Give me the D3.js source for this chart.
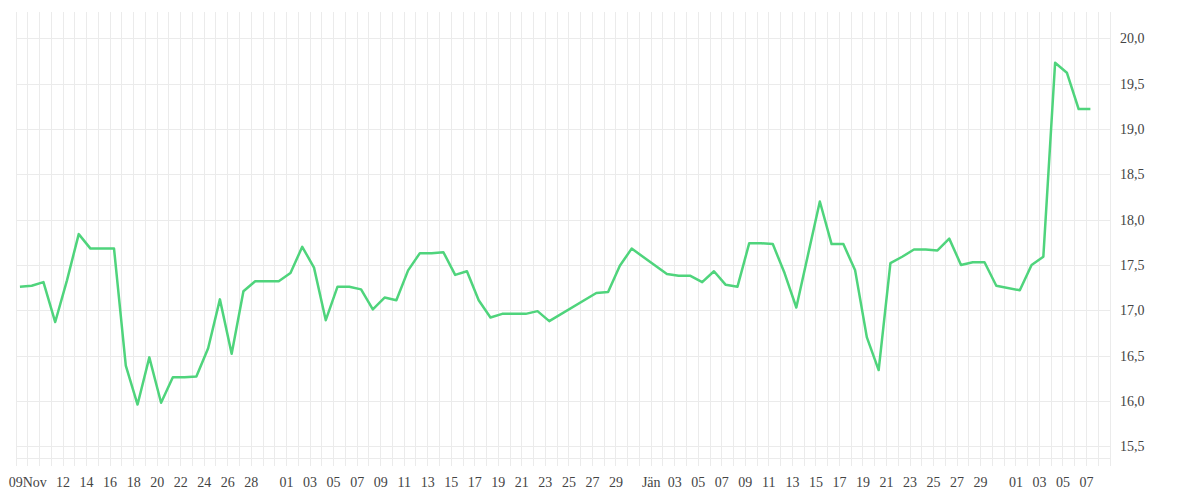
<!DOCTYPE html>
<html>
<head>
<meta charset="utf-8">
<script src="https://cdn.jsdelivr.net/npm/d3@7"></script>
<style>
  body { margin: 0; background: #fff; }
  text { font-family: "Liberation Serif", serif; font-size: 14px; fill: #444; }
</style>
</head>
<body>
<svg id="chart" width="1200" height="500"></svg>
<script>
// one value per day from 8 Nov, null = no data that day
const startDate = new Date(2020, 10, 8);
const values = [
  17.26, 17.27, 17.31, 16.87, 17.33, 17.84, 17.68, 17.68, 17.68, 16.39,
  15.96, 16.48, 15.98, 16.26, 16.26, 16.27, 16.58, 17.12, 16.52, 17.21,
  17.32, 17.32, 17.32, 17.41, 17.70, 17.47, 16.89, 17.26, 17.26, 17.23,
  17.01, 17.14, 17.11, 17.44, 17.63, 17.63, 17.64, 17.39, 17.43, 17.11,
  16.92, 16.96, 16.96, 16.96, 16.99, 16.88, null, null, null, 17.19,
  17.20, 17.49, 17.68, null, null, 17.40, 17.38, 17.38, 17.31, 17.43,
  17.28, 17.26, 17.74, 17.74, 17.73, 17.41, 17.03, null, 18.20, 17.73,
  17.73, 17.44, 16.70, 16.34, 17.52, 17.59, 17.67, 17.67, 17.66, 17.79,
  17.50, 17.53, 17.53, 17.27, null, 17.22, 17.50, 17.59, 19.73, 19.62,
  19.22, 19.22
];
// tick labels: day offset from startDate and text
const tickDays = [1, 4, 6, 8, 10, 12, 14, 16, 18, 20, 23, 25, 27, 29, 31, 33, 35, 37, 39, 41, 43, 45, 47, 49, 51,
  54, 56, 58, 60, 62, 64, 66, 68, 70, 72, 74, 76, 78, 80, 82, 85, 87, 89, 91];
const tickLabels = ["09Nov", "12", "14", "16", "18", "20", "22", "24", "26", "28", "01", "03", "05", "07", "09", "11",
  "13", "15", "17", "19", "21", "23", "25", "27", "29", "Jän", "03", "05", "07", "09", "11", "13", "15", "17", "19",
  "21", "23", "25", "27", "29", "01", "03", "05", "07"];
const yTicks = [15.5, 16.0, 16.5, 17.0, 17.5, 18.0, 18.5, 19.0, 19.5, 20.0];

const day = 864e5;
const dayDate = i => new Date(startDate.getTime() + i * day);
const points = values.map((v, i) => ({ date: new Date(dayDate(i).getTime() + 8 * 36e5), value: v }))
  .filter(d => d.value !== null);

const svg = d3.select("#chart");
const x = d3.scaleTime().domain([startDate, dayDate(93)]).range([16, 1110]);
const y = d3.scaleLinear().domain([15.37, 20.29]).range([458, 12]);

// vertical grid every day
const days = d3.range(0, 94);
svg.append("g").selectAll("line").data(days).join("line")
  .attr("x1", d => x(dayDate(d))).attr("x2", d => x(dayDate(d)))
  .attr("y1", 12).attr("y2", 466)
  .attr("stroke", "#ebebeb").attr("shape-rendering", "crispEdges");

svg.append("g").selectAll("line").data(yTicks.concat([15.37])).join("line")
  .attr("x1", 16).attr("x2", 1110)
  .attr("y1", d => Math.round(y(d))).attr("y2", d => Math.round(y(d)))
  .attr("stroke", "#ebebeb").attr("shape-rendering", "crispEdges");

svg.append("g").selectAll("text").data(yTicks).join("text")
  .attr("x", 1120).attr("y", d => y(d) + 5)
  .text(d => d3.format(".1f")(d).replace(".", ","));

svg.append("g").selectAll("text").data(tickDays).join("text")
  .attr("x", d => x(dayDate(d))).attr("y", 487)
  .attr("text-anchor", "middle")
  .text((d, i) => tickLabels[i]);

const line = d3.line().x(d => x(d.date)).y(d => y(d.value));
svg.append("path").datum(points)
  .attr("d", line).attr("fill", "none")
  .attr("stroke", "#4fd47c").attr("stroke-width", 2.5)
  .attr("stroke-linejoin", "round");
</script>
</body>
</html>
